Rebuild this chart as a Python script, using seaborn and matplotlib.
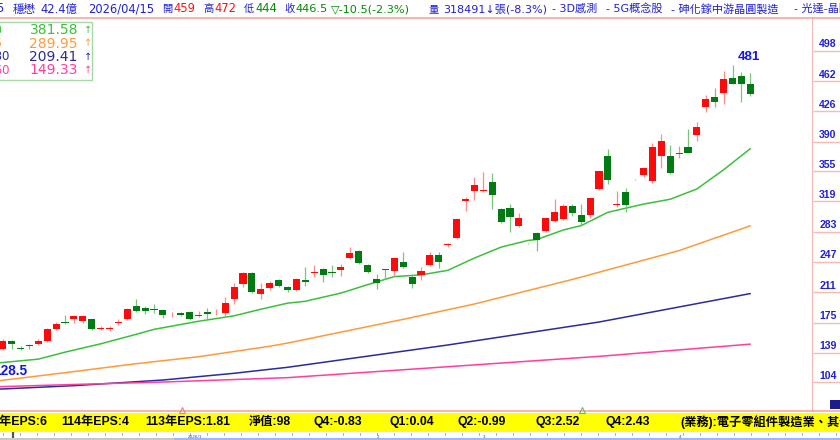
import numpy as np
import matplotlib
matplotlib.use("Agg")
import matplotlib.pyplot as plt
import seaborn as sns
from matplotlib.patches import Rectangle
from matplotlib.lines import Line2D

# ---------------- data ----------------
opens = [133, 143.4, 153.5, 144.8, 147.4, 149.1, 153.4, 167.7, 176, 179.6, 176.8,
         178.8, 167.8, 167.6, 174.9, 179.2, 194.7, 192.3, 191, 189.9, 184.8,
         186.3, 187.2, 183.2, 187.5, 185.8, 186.7, 202.6, 220.4, 233.5, 208.9,
         215.7, 225.5, 217.6, 213.7, 225.5, 233.6, 238.3, 235.1, 237.8, 251.3,
         259.6, 243, 227.1, 237.6, 236.6, 247.3, 228.7, 231.5, 243.4, 255.6,
         267.5, 275.1, 319.4, 331.7, 331.5, 341.6, 310.3, 311.5, 289.7, 269.5,
         281, 283.4, 295.6, 298, 313.8, 303.1, 303.1, 333.3, 372.9, 315,
         330.1, 345, 350.3, 342.8, 373.3, 373.3, 375.6, 384, 397.5, 431.5,
         443.4, 448.1, 466, 468.3, 459]
highs = [136, 155, 154.3, 147, 149.9, 155.1, 168.2, 176, 184.3, 184, 184,
         179.5, 171, 170.5, 178.9, 192, 203, 194.5, 196.7, 190.7, 187,
         188, 189, 188.7, 192.3, 190.7, 205, 221.6, 235, 235, 222.3,
         224, 226.5, 219, 228, 240.6, 243.4, 239.5, 243.4, 244.6, 265,
         261, 244.5, 232.3, 238.3, 253, 258.8, 231.1, 241, 258.8, 258.4,
         269.6, 298.8, 324.5, 348.3, 354.2, 353, 311, 315.9, 304.8, 270,
         283, 300, 321.4, 315.9, 316, 315.9, 323.5, 355, 381.6, 331.7,
         335.3, 346, 360.2, 388.7, 398.6, 385.6, 384.8, 404.6, 413.6, 445.4,
         454, 474.2, 481, 472.7, 472]
lows = [128.5, 142, 143.6, 142, 143.9, 148, 152.2, 166.1, 173, 174, 174,
        166, 166, 165.5, 172.1, 178.5, 188, 185.5, 186.7, 180.4, 182,
        183, 177.7, 181, 178.8, 184.3, 182, 197, 217.6, 210, 202.6,
        214, 217.6, 211, 213, 218.8, 229.5, 223.5, 229.5, 230.6, 250,
        244.6, 234, 214.5, 226.4, 230, 239.4, 216.4, 225.5, 242, 240.2,
        265, 274.5, 307.2, 320.6, 330.5, 309.5, 293, 282.6, 289, 268.5,
        260.4, 282.5, 294.5, 297, 301, 290.5, 299, 332.5, 339.6, 312,
        306, 344.5, 348.3, 340.4, 358.3, 351.5, 370.2, 376, 391.1, 424.8,
        431.5, 434.3, 458, 437.4, 444]
closes = [131, 153.4, 149.1, 144.0, 147.0, 153.1, 167.3, 173.3, 174.1, 182.4, 183.1,
          167.7, 168.4, 168.2, 175.7, 191.1, 189.1, 188.7, 190.4, 184.3, 185.4,
          184.5, 179.2, 184, 185.1, 186.6, 197.9, 216.9, 233.5, 210.9, 215.2,
          222.3, 218.8, 213.7, 227.1, 222.8, 234.8, 231.1, 234.3, 241.4, 258,
          245.4, 235, 221.6, 237.2, 252.1, 240.6, 220.4, 236.6, 255.6, 247.3,
          268.3, 298, 322.2, 338, 332, 326.5, 294.1, 300.8, 298.9, 269,
          273.1, 298.9, 306.8, 313.5, 304.8, 294.1, 323, 354.7, 344.4, 316,
          314.7, 345.5, 359.1, 383.2, 391.1, 352.3, 376.6, 376.9, 407.8, 440.2,
          436.7, 464.4, 458.8, 458.1, 446.5]

ma1_idx = [0, 5, 8, 12, 16, 18, 23, 27, 30, 33, 35, 39, 42, 45, 48, 51, 54, 57,
           60, 61, 64, 66, 69, 73, 76, 79, 82, 85]
ma1_val = [126.5, 131.5, 139.8, 149.7, 161, 166.9, 176.5, 183, 190.8, 198, 200.3,
           210, 220, 229.6, 231.6, 237, 251.6, 264.6, 272.5, 273.6, 285, 290.2,
           306, 315.7, 321.5, 333.7, 356.5, 381.58]
ma2_idx = [0, 8, 16, 23, 31, 33, 46, 54, 59, 65, 77, 85]
ma2_val = [105.1, 115.4, 126.1, 134.4, 146.8, 150.6, 178.8, 197, 210.3, 226.2, 260.5, 289.95]
ma3_idx = [0, 9, 19, 27, 33, 51, 68, 85]
ma3_val = [95.6, 100.0, 106.7, 114.7, 121.8, 148.3, 175.6, 209.41]
ma4_idx = [0, 9, 19, 33, 51, 68, 85]
ma4_val = [98.6, 101.4, 104.3, 109.5, 122.5, 134.8, 149.33]
ma_names = ["MA20", "MA65", "MA180", "MA260"]

right_ticks = [104, 139, 175, 211, 247, 283, 319, 355, 390, 426, 462, 498]

title_texts = ["3105", "穩懋", "42.4億", "2026/04/15", "開", "459", "高", "472",
               "低", "444", "收", "446.5", "▽-10.5(-2.3%)", "量", "318491↓張(-8.3%)",
               "- 3D感測", "- 5G概念股", "- 砷化鎵中游晶圓製造", "- 光達-晶圓代工"]
eps_texts = ["115年EPS:6", "114年EPS:4", "113年EPS:1.81", "淨值:98", "Q4:-0.83",
             "Q1:0.04", "Q2:-0.99", "Q3:2.52", "Q4:2.43",
             "(業務):電子零組件製造業、其他電子業"]
nav_labels = ["2026/1", "2", "3", "4"]

# ---------------- style / layout ----------------
sns.set_theme(style="white")
plt.rcParams['font.family'] = ['DejaVu Sans', 'Noto Sans CJK TC']

W, H = 840, 440
fig = plt.figure(figsize=(8.4, 4.4), dpi=100)
fig.patch.set_facecolor('white')

def fx(x):
    return x / W

def fy(y):
    return 1 - y / H

TOP, BOT, RIGHT = 18, 411, 813
PINK = '#f4a8a0'
BLUE = '#2020d8'
RED = '#ff1010'
GRN = '#008c00'

ax = fig.add_axes([0, fy(BOT), RIGHT / W, (BOT - TOP) / H])
ax.set_facecolor('white')

ylo = 498 - (BOT - 50.7) / 0.8416
yhi = 498 + (50.7 - TOP) / 0.8416
ax.set_ylim(ylo, yhi)
ax.set_xlim(6.2 / 8.9, (RIGHT + 6.2) / 8.9)

# moving averages (seaborn)
ma_cols = ['#3cbf3c', '#ff9a3c', '#2b2b9c', '#ff3fa0']
for idxs, vals, col in [(ma1_idx, ma1_val, ma_cols[0]), (ma2_idx, ma2_val, ma_cols[1]),
                        (ma3_idx, ma3_val, ma_cols[2]), (ma4_idx, ma4_val, ma_cols[3])]:
    sns.lineplot(x=idxs, y=vals, ax=ax, color=col, lw=1.1, zorder=1.5, legend=False)

# candles
o = np.array(opens); h = np.array(highs); l = np.array(lows); c = np.array(closes)
idx = np.arange(len(o))
up = c >= o
body_col = np.where(up, '#ff0a0a', '#007a12')
wick_col = np.where(up, '#ff8c8c', '#7cc47c')
ax.vlines(idx, l, h, colors=wick_col, lw=0.9, zorder=2)
bottom = np.minimum(o, c)
height = np.maximum(np.abs(c - o), 0.9)
ax.bar(idx, height, bottom=bottom, width=0.8, color=body_col, linewidth=0, zorder=3)

# high / low labels
imax = int(np.argmax(h)); imin = int(np.argmin(l))
ax.annotate(f"{h[imax]:g}", xy=(imax + 1.85, h[imax]), xytext=(0, 8.5),
            textcoords='offset pixels', ha='center', va='center', color='#1515ee',
            fontweight='bold', fontsize=9.6, family=['Liberation Sans'],
            annotation_clip=False)
ax.annotate(f"{l[imin]:g}", xy=(imin + 1.85, l[imin]), xytext=(0, -9.5),
            textcoords='offset pixels', ha='center', va='center', color='#1515ee',
            fontweight='bold', fontsize=9.9, family=['Liberation Sans'],
            annotation_clip=False)

ax.set_xticks([]); ax.set_yticks([])
ax.spines['left'].set_visible(False)
for s in ['top', 'bottom', 'right']:
    ax.spines[s].set_color(PINK)
    ax.spines[s].set_linewidth(1.2)

# right price axis
ax2 = fig.add_axes([RIGHT / W, fy(BOT), (W - RIGHT) / W, (BOT - TOP) / H])
ax2.set_ylim(ylo, yhi); ax2.set_xlim(0, 1)
ax2.set_xticks([]); ax2.set_yticks([])
for s in ['left', 'right']:
    ax2.spines[s].set_visible(False)
for s in ['top', 'bottom']:
    ax2.spines[s].set_color(PINK); ax2.spines[s].set_linewidth(1.2)
ax2.hlines(right_ticks, 0, 1, colors='#f6bcb4', lw=1)
for v in right_ticks:
    ax2.text(0.23, v + 7.7, str(v), ha='left', va='center', color=BLUE,
             fontweight='bold', fontsize=7.6, family=['Liberation Sans'])
fig.patches.append(Rectangle((fx(830), fy(409)), 10 / W, 9 / H, transform=fig.transFigure,
                             facecolor='#1c1c8c', edgecolor='none', zorder=5))

# title line
title_x = [-25, 13, 40, 88, 162, 173, 203, 214, 244, 255, 284, 296, 331, 429, 443,
           552, 606, 671, 794]
title_c = [BLUE, BLUE, BLUE, BLUE, BLUE, RED, BLUE, RED, BLUE, GRN, BLUE, GRN, GRN,
           BLUE, BLUE, BLUE, BLUE, BLUE, BLUE]
title_fs = [8.3, 8.3, 8.3, 8.3, 7.4, 8.3, 7.4, 8.3, 7.4, 8.3, 7.4, 8.2, 8.1,
            7.4, 8.0, 8.0, 8.0, 8.0, 8.0]
for t, x, col, fs in zip(title_texts, title_x, title_c, title_fs):
    fig.text(fx(x), fy(9), t, ha='left', va='center', color=col, fontsize=fs,
             family=['DejaVu Sans', 'Noto Sans CJK TC'])

# legend box
fig.patches.append(Rectangle((fx(-2), fy(80)), 93.7 / W, 58 / H, transform=fig.transFigure,
                             facecolor='white', edgecolor='#a8d8a8', lw=1, zorder=5))
leg_y = [30, 43.5, 57, 70.3]
leg_last = [ma1_val[-1], ma2_val[-1], ma3_val[-1], ma4_val[-1]]
for name, val, col, yy in zip(ma_names, leg_last, ma_cols, leg_y):
    fig.text(fx(-30), fy(yy), name, ha='left', va='center', color=col, fontsize=8.5,
             zorder=6)
    fig.text(fx(29.5), fy(yy), f"{val:.2f}", ha='left', va='center', color=col,
             fontsize=10, zorder=6)
    fig.text(fx(84), fy(yy), "↑", ha='left', va='center', color=col, fontsize=7,
             zorder=6)

# yellow info bar
fig.patches.append(Rectangle((0, fy(431.7)), 1, 19 / H, transform=fig.transFigure,
                             facecolor='#ffff00', edgecolor='none', zorder=4))
eps_x = [-21, 61.7, 145, 249, 313, 390, 458, 535, 605, 680]
for t, x in zip(eps_texts, eps_x):
    fig.text(fx(x), fy(422.2), t, ha='left', va='center', color='black', fontsize=8.8,
             fontweight='bold', family=['Liberation Sans', 'Noto Sans CJK TC'], zorder=6)

# event markers on bottom border
for x, col in [(181.5, '#f08080'), (581.5, '#60c060')]:
    fig.add_artist(Line2D([fx(x)], [fy(409.5)], marker='^', mfc='none', mec=col, ms=4.5,
                          mew=0.8, transform=fig.transFigure, zorder=6))

# navigator strip
for x in np.arange(3, 840, 17):
    fig.add_artist(Line2D([fx(x), fx(x)], [fy(432.5), fy(434.5)], color='#9a9a9a', lw=0.6,
                          transform=fig.transFigure))
fig.add_artist(Line2D([fx(13.5), fx(13.5)], [fy(432), fy(438)], color='#555555', lw=1.6,
                      transform=fig.transFigure))
fig.add_artist(Line2D([0, fx(175)], [fy(439), fy(439)], color='#c8c8c8', lw=1.5,
                      transform=fig.transFigure))
fig.add_artist(Line2D([fx(175), 1], [fy(439), fy(439)], color='#9ab8ff', lw=1.5,
                      transform=fig.transFigure))
for t, x in zip(nav_labels, [188, 377, 483, 679]):
    fig.text(fx(x), fy(436.5), t, ha='left', va='center', color='#3a3ae0', fontsize=3)

fig.savefig("out.png", dpi=100)
